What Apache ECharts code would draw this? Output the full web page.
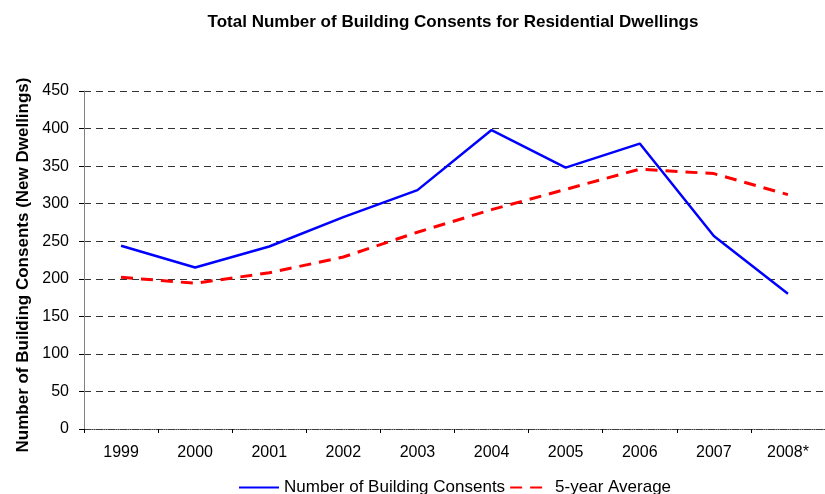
<!DOCTYPE html>
<html>
<head>
<meta charset="utf-8">
<script src="https://cdn.jsdelivr.net/npm/echarts@6/dist/echarts.min.js"></script>
<style>
    html, body { margin: 0; padding: 0; background: #fff; }
    #chartId { width: 825px; height: 494px; }
</style>
</head>
<body>
<div id="chartId"></div>
<script>
// 年份
const years = ["1999", "2000", "2001", "2002", "2003", "2004", "2005", "2006", "2007", "2008*"];
// 建築許可數
const consents = [244, 215, 243, 282, 318, 398, 348, 380, 257, 180];
// 五年平均
const avg5 = [202, 194, 208, 229, 262, 292, 319, 346, 340, 312];

const font = "Liberation Sans, Arial, sans-serif";

var chart = echarts.init(document.getElementById('chartId'));
var option = {
    animation: false,
    title: {
        text: "Total Number of Building Consents for Residential Dwellings",
        left: 448,
        top: 9,
        textAlign: 'center',
        textStyle: { fontFamily: font, fontSize: 17, fontWeight: 'bold', color: '#000' }
    },
    grid: { left: 84, right: 0, top: 91, bottom: 65, outerBoundsMode: 'none', containLabel: false },
    legend: {
        bottom: -7,
        left: 233,
        itemWidth: 40,
        itemHeight: 10,
        itemGap: 4,
        itemStyle: { opacity: 0 },
        textStyle: { fontFamily: font, fontSize: 17, color: '#000' },
        data: ['Number of Building Consents', '5-year Average']
    },
    xAxis: {
        type: 'category',
        data: years,
        boundaryGap: true,
        axisLine: { lineStyle: { color: '#404040', type: 'dotted', width: 1 } },
        axisTick: { show: true, length: 4, lineStyle: { color: '#000' } },
        axisLabel: { fontFamily: font, fontSize: 16, color: '#000', margin: 16 }
    },
    yAxis: {
        type: 'value',
        min: 0,
        max: 450,
        interval: 50,
        name: 'Number of Building Consents (New Dwellings)',
        nameLocation: 'middle',
        nameGap: 51,
        nameTextStyle: { fontFamily: font, fontSize: 17, fontWeight: 'bold', color: '#000', padding: [0, 10, 0, 0] },
        axisLine: { show: true, lineStyle: { color: '#808080', width: 1 } },
        axisTick: { show: true, length: 5, lineStyle: { color: '#000' } },
        axisLabel: { fontFamily: font, fontSize: 16, color: '#000', margin: 15 },
        splitLine: { lineStyle: { color: '#333', type: [7, 5], width: 1 } }
    },
    series: [
        {
            name: 'Number of Building Consents',
            type: 'line',
            data: consents,
            symbol: 'none',
            itemStyle: { color: '#0000ff' },
            lineStyle: { color: '#0000ff', width: 2.5 }
        },
        {
            name: '5-year Average',
            type: 'line',
            data: avg5,
            symbol: 'none',
            itemStyle: { color: '#ff0000' },
            lineStyle: { color: '#ff0000', width: 3, type: [12, 8] }
        }
    ]
};
chart.setOption(option);
</script>
</body>
</html>
